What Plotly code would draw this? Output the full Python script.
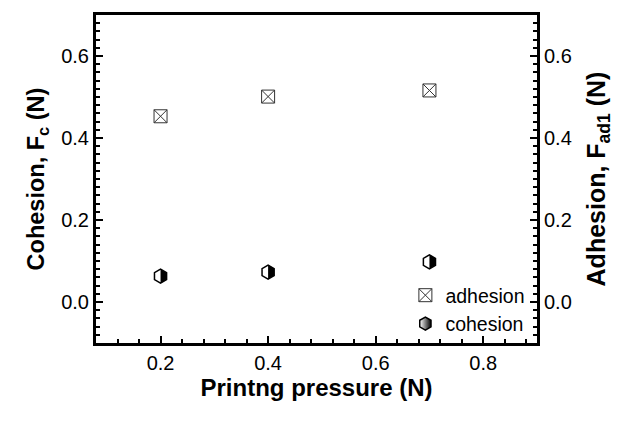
import plotly.graph_objects as go

pressure = [0.2, 0.4, 0.7]
adhesion = [0.453, 0.501, 0.516]
cohesion = [0.063, 0.073, 0.098]

x_range = [0.08, 0.9]
y_range = [-0.1, 0.7]
x_ticks = [0.2, 0.4, 0.6, 0.8]
y_ticks = [0.0, 0.2, 0.4, 0.6]

FONT = "Liberation Sans, Arial, sans-serif"
W, H = 635, 424
ML, MR, MT, MB = 96, 98, 15, 81
plot_w = W - ML - MR
half_cover = 8  # px, half of the white cover square
dx = half_cover / plot_w * (x_range[1] - x_range[0])

fig = go.Figure()

# adhesion markers (right axis)
fig.add_trace(go.Scatter(
    x=pressure, y=adhesion, mode="markers", name="adhesion", yaxis="y2",
    marker=dict(symbol="square-x-open", size=13, color="#333",
                line=dict(width=1, color="#333")),
))

# cohesion: filled hexagon
fig.add_trace(go.Scatter(
    x=pressure, y=cohesion, mode="markers", showlegend=False,
    marker=dict(symbol="hexagon", size=14, color="black",
                line=dict(width=0)),
))
# white cover for left half
fig.add_trace(go.Scatter(
    x=pressure, y=cohesion, mode="markers", showlegend=False, xaxis="x3",
    marker=dict(symbol="square", size=2 * half_cover, color="white",
                line=dict(width=0)),
))
# outline (on a later overlay so it sits above the cover)
fig.add_trace(go.Scatter(
    x=pressure, y=cohesion, mode="markers", showlegend=False, xaxis="x4",
    marker=dict(symbol="hexagon-open", size=14, color="black",
                line=dict(width=1.5, color="black")),
))
# legend entry for cohesion
fig.add_trace(go.Scatter(
    x=[None], y=[None], mode="markers", name="cohesion",
    marker=dict(symbol="hexagon", size=13, color="white",
                gradient=dict(type="horizontal", color="black"),
                line=dict(width=1.5, color="black")),
))

axis_common = dict(
    showline=True, linewidth=3, linecolor="black", ticks="inside",
    tickwidth=2, ticklen=7, tickcolor="black", showgrid=False, zeroline=False,
    tickfont=dict(family=FONT, size=20, color="black"),
)
minor_y = dict(dtick=0.02, tick0=0, ticks="inside", ticklen=4,
               tickwidth=2, tickcolor="black")

fig.update_layout(
    width=W, height=H,
    margin=dict(l=ML, r=MR, t=MT, b=MB),
    paper_bgcolor="white", plot_bgcolor="white",
    font=dict(family=FONT, color="black"),
    showlegend=True,
    legend=dict(x=0.985, xanchor="right", y=0.0, yanchor="bottom",
                bgcolor="rgba(0,0,0,0)", borderwidth=0,
                font=dict(family=FONT, size=19.5, color="black"),
                itemwidth=30, tracegroupgap=0),
    xaxis=dict(**axis_common, range=x_range, tickvals=x_ticks,
               tickformat=".1f", mirror=True,
               minor=dict(dtick=0.04, tick0=0, ticks="inside", ticklen=4,
                          tickwidth=2, tickcolor="black"),
               title=dict(text="<b>Printng pressure (N)</b>", standoff=6,
                          font=dict(family=FONT, size=24, color="black"))),
    xaxis3=dict(overlaying="x", range=[x_range[0] + dx, x_range[1] + dx],
                visible=False),
    xaxis4=dict(overlaying="x", range=x_range, visible=False),
    yaxis=dict(**axis_common, range=y_range, tickvals=y_ticks,
               tickformat=".1f", minor=minor_y,
               title=dict(text="<b>Cohesion, F<sub>c</sub> (N)</b>", standoff=10,
                          font=dict(family=FONT, size=23.5, color="black"))),
    yaxis2=dict(**axis_common, range=y_range, tickvals=y_ticks,
                tickformat=".1f", overlaying="y", side="right", minor=minor_y,
                title=dict(text="<b>Adhesion, F<sub>ad1</sub> (N)</b>", standoff=17,
                           font=dict(family=FONT, size=25, color="black"))),
)

fig.write_html("out.html")
